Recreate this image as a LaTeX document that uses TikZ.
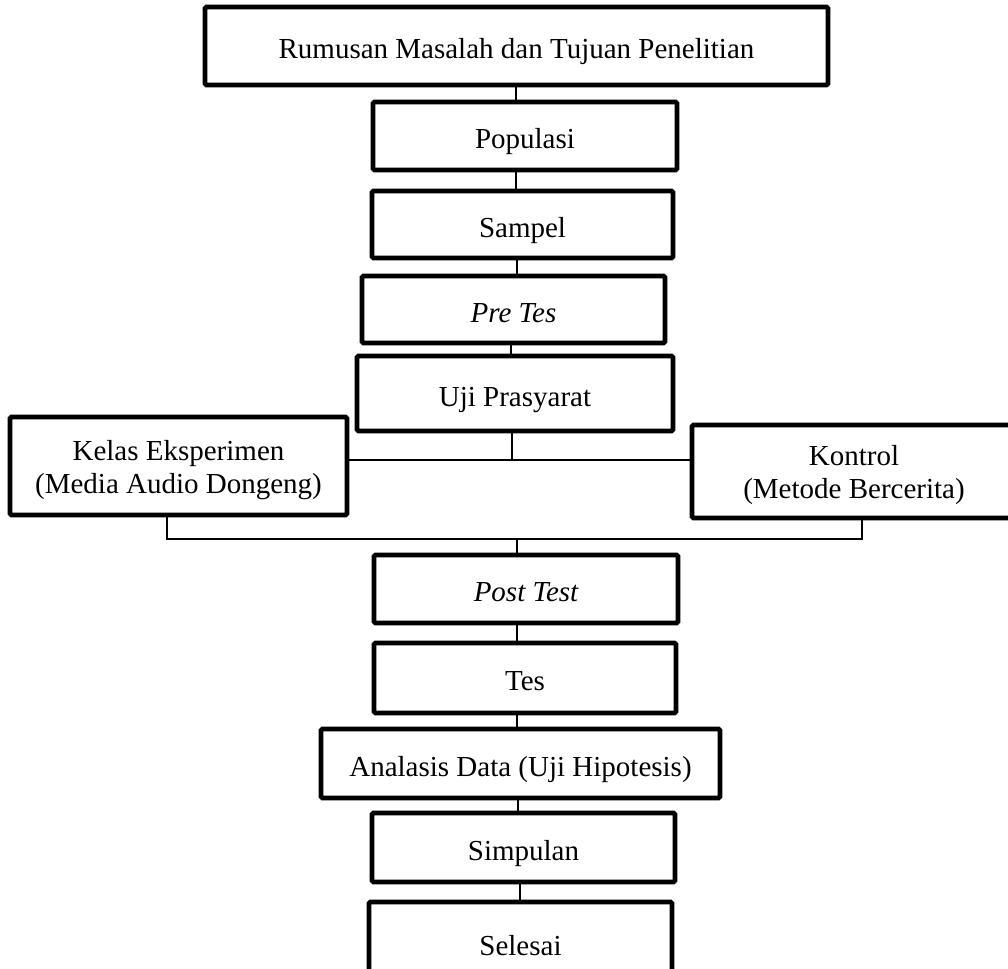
\documentclass[tikz,border=0pt]{standalone}
\usepackage{fontspec}
\setmainfont{Liberation Serif}
\begin{document}
\begin{tikzpicture}[x=1pt,y=-1pt,
  box/.style={draw, line width=4.7pt, rounded corners=1.5pt, inner sep=0pt,
    font=\fontsize{29}{33}\selectfont},
  one/.style={box, text height=27pt, text depth=1.8pt},
  two/.style={box, align=center},
  conn/.style={line width=1.3pt}]
\useasboundingbox (0,0) rectangle (1008,968);
\node[one, minimum width=623pt, minimum height=78pt] (top) at (516.5,46) {Rumusan Masalah dan Tujuan Penelitian};
\node[one, minimum width=304pt, minimum height=68pt] (pop) at (525,136) {Populasi};
\node[one, minimum width=301pt, minimum height=67pt] (samp) at (522.5,224.5) {Sampel};
\node[one, minimum width=303pt, minimum height=67pt] (pre) at (513.5,309.5) {\itshape Pre Tes};
\node[one, minimum width=316pt, minimum height=75pt] (uji) at (515,393.5) {Uji Prasyarat};
\node[two, minimum width=337pt, minimum height=98pt] (kelas) at (178.5,466) {\rule{0pt}{0.97em}Kelas Eksperimen\\(Media Audio Dongeng)};
\node[two, minimum width=324pt, minimum height=93pt] (kontrol) at (854,471.5) {\rule{0pt}{0.97em}Kontrol\\(Metode Bercerita)};
\node[one, minimum width=304pt, minimum height=68pt] (post) at (526,589) {\itshape Post Test};
\node[one, minimum width=302pt, minimum height=70pt] (tes) at (525,678) {Tes};
\node[one, minimum width=399pt, minimum height=69pt] (anal) at (520.5,763.5) {Analasis Data (Uji Hipotesis)};
\node[one, minimum width=303pt, minimum height=69pt] (simp) at (523.5,847.5) {Simpulan};
\node[one, minimum width=303pt, minimum height=82pt] (sel) at (520.5,943) {Selesai};
\coordinate (j1) at (512,460);
\coordinate (bl) at (167,539);
\coordinate (br) at (862,539);
\coordinate (bm) at (517,539);
\draw[conn] (top.south -| 516,0) -- (pop.north -| 516,0);
\draw[conn] (pop.south -| 516,0) -- (samp.north -| 516,0);
\draw[conn] (samp.south -| 517,0) -- (pre.north -| 517,0);
\draw[conn] (pre.south -| 511,0) -- (uji.north -| 511,0);
\draw[conn] (uji.south -| j1) -- (j1);
\draw[conn] (kelas.east |- j1) -- (kontrol.west |- j1);
\draw[conn] (kelas.south -| bl) -- (bl) -- (br) -- (kontrol.south -| br);
\draw[conn] (bm) -- (post.north -| bm);
\draw[conn] (post.south -| 517,0) -- (tes.north -| 517,0);
\draw[conn] (tes.south -| 517,0) -- (anal.north -| 517,0);
\draw[conn] (anal.south -| 518,0) -- (simp.north -| 518,0);
\draw[conn] (simp.south -| 520,0) -- (sel.north -| 520,0);
\end{tikzpicture}
\end{document}
